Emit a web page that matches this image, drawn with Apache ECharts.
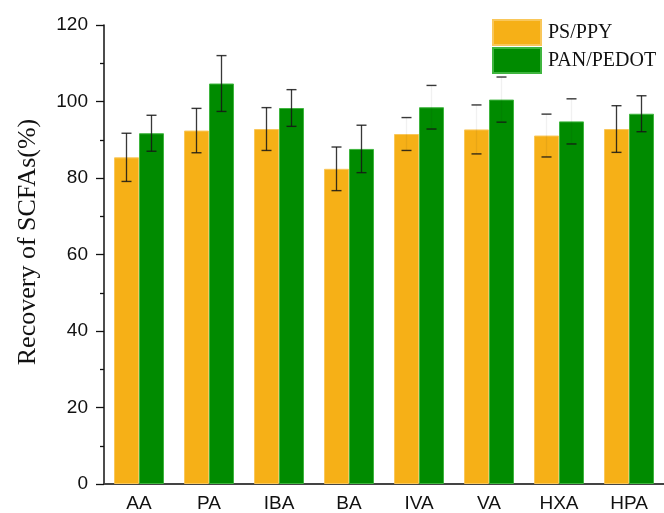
<!DOCTYPE html>
<html>
<head>
<meta charset="utf-8">
<script src="https://cdn.jsdelivr.net/npm/echarts@6/dist/echarts.min.js"></script>
<style>
  html, body { margin: 0; padding: 0; background: #fff; }
  #chart { width: 664px; height: 513px; }
</style>
</head>
<body>
<div id="chart"></div>
<script>
// Short-chain fatty acids
const categories = ['AA', 'PA', 'IBA', 'BA', 'IVA', 'VA', 'HXA', 'HPA'];

// Recovery (%) and standard deviation, PS/PPY
const psPpy    = [85.4, 92.4, 92.8, 82.4, 91.5, 92.7, 91.1, 92.8];
const psPpyErr = [6.3, 5.8, 5.6, 5.7, 4.3, 6.4, 5.6, 6.1];

// Recovery (%) and standard deviation, PAN/PEDOT
const panPedot    = [91.7, 104.7, 98.3, 87.6, 98.5, 100.5, 94.8, 96.8];
const panPedotErr = [4.7, 7.3, 4.8, 6.2, 5.7, 5.9, 5.9, 4.7];

const yTicks = [0, 20, 40, 60, 80, 100, 120];

// Categories whose whisker stems are printed very light
const faintStems = ['IVA', 'VA', 'HXA'];

const ORANGE = '#F6B017';
const GREEN = '#008B00';
const BAR_W = 25;
const CAP = 5;

function errorSeries(name, means, errs, side) {
  return {
    type: 'custom',
    name: name + ' SD',
    z: 10,
    silent: true,
    encode: { x: 0, y: [1, 2] },
    data: means.map((m, i) => [i, +(m - errs[i]).toFixed(2), +(m + errs[i]).toFixed(2)]),
    renderItem(params, api) {
      const i = api.value(0);
      const lo = api.coord([i, api.value(1)]);
      const hi = api.coord([i, api.value(2)]);
      const x = lo[0] + side * BAR_W / 2;
      const faint = faintStems.indexOf(categories[i]) >= 0;
      const capStyle = { stroke: '#151515', lineWidth: 1.4, opacity: 0.85 };
      return {
        type: 'group',
        children: [
          { type: 'line', shape: { x1: x, y1: hi[1], x2: x, y2: lo[1] },
            style: { stroke: '#151515', lineWidth: 1.3, opacity: faint ? 0.06 : 0.85 } },
          { type: 'line', shape: { x1: x - CAP, y1: hi[1], x2: x + CAP, y2: hi[1] }, style: capStyle },
          { type: 'line', shape: { x1: x - CAP, y1: lo[1], x2: x + CAP, y2: lo[1] }, style: capStyle }
        ]
      };
    }
  };
}

const chart = echarts.init(document.getElementById('chart'), null, { renderer: 'canvas' });

chart.setOption({
  animation: false,
  backgroundColor: '#fff',
  grid: { left: 104, top: 25, bottom: 28, width: 568, containLabel: false },
  legend: {
    data: ['PS/PPY', 'PAN/PEDOT'],
    orient: 'vertical',
    left: 492,
    top: 19,
    padding: 0,
    itemWidth: 48,
    itemHeight: 25,
    itemGap: 1,
    icon: 'rect',
    textStyle: { fontFamily: 'Liberation Serif', fontSize: 20, color: '#111', padding: [0, 0, 0, 2] }
  },
  xAxis: {
    type: 'category',
    data: categories,
    axisLine: { lineStyle: { color: '#444', width: 2 } },
    axisTick: { show: false },
    axisLabel: { fontFamily: 'Liberation Sans', fontSize: 19, color: '#111', margin: 10 }
  },
  yAxis: {
    type: 'value',
    min: yTicks[0],
    max: yTicks[yTicks.length - 1],
    interval: yTicks[1] - yTicks[0],
    axisLine: { show: true, lineStyle: { color: '#111', width: 1.5 } },
    axisTick: { show: true, inside: false, length: 8, lineStyle: { color: '#111', width: 1.3 } },
    minorTick: { show: true, splitNumber: 2, length: 4, lineStyle: { color: '#111', width: 1.3 } },
    splitLine: { show: false },
    axisLabel: { fontFamily: 'Liberation Sans', fontSize: 19, color: '#111', margin: 16 }
  },
  graphic: [{
    type: 'text',
    x: 28,
    y: 242,
    rotation: Math.PI / 2,
    style: {
      text: 'Recovery of SCFAs(%)',
      font: '26px "Liberation Serif"',
      fill: '#111',
      align: 'center',
      verticalAlign: 'middle'
    }
  }],
  series: [
    {
      name: 'PS/PPY',
      type: 'bar',
      data: psPpy,
      barWidth: BAR_W,
      barGap: '0%',
      itemStyle: { color: ORANGE, borderColor: '#F9C75A', borderWidth: 1 }
    },
    {
      name: 'PAN/PEDOT',
      type: 'bar',
      data: panPedot,
      barWidth: BAR_W,
      barGap: '0%',
      itemStyle: { color: GREEN, borderColor: '#3FB53F', borderWidth: 1 }
    },
    errorSeries('PS/PPY', psPpy, psPpyErr, -1),
    errorSeries('PAN/PEDOT', panPedot, panPedotErr, 1)
  ]
});
</script>
</body>
</html>
